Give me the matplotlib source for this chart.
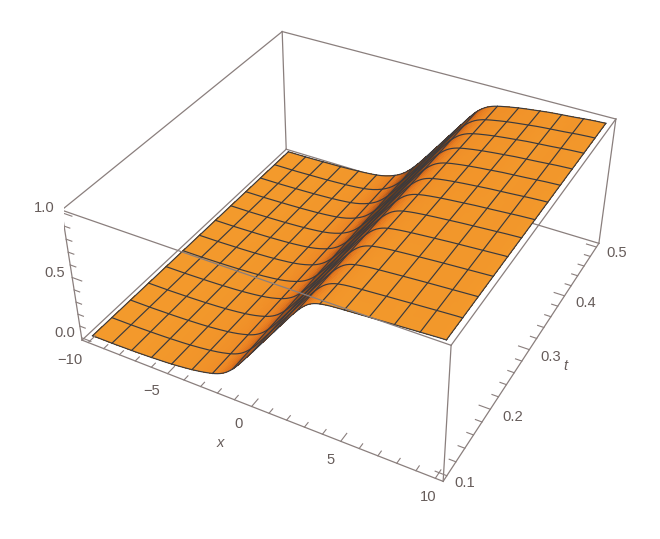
import matplotlib
matplotlib.use('Agg')
import matplotlib.pyplot as plt
import numpy as np
from matplotlib.colors import LinearSegmentedColormap
from mpl_toolkits.mplot3d import proj3d

# values: height of the step along x, front and back row
x_read = np.linspace(-10, 10, 33)
z_front = [0.00, 0.00, 0.00, 0.002, 0.004, 0.006, 0.01, 0.015, 0.02, 0.03,
           0.04, 0.055, 0.075, 0.105, 0.175, 0.28, 0.39, 0.50, 0.61, 0.72,
           0.83, 0.92, 0.945, 0.955, 0.96, 0.965, 0.97, 0.975, 0.98, 0.985,
           0.99, 0.995, 1.00]
z_back = [0.00, 0.00, 0.00, 0.002, 0.004, 0.006, 0.008, 0.012, 0.016, 0.022,
          0.03, 0.045, 0.075, 0.12, 0.20, 0.30, 0.405, 0.51, 0.615, 0.72,
          0.825, 0.885, 0.91, 0.925, 0.94, 0.95, 0.96, 0.97, 0.975, 0.98,
          0.99, 0.995, 1.00]

x_ticks = [-10, -5, 0, 5, 10]
t_ticks = [0.1, 0.2, 0.3, 0.4, 0.5]
z_ticks = [0.0, 0.5, 1.0]

xl = (-10.4, 10.4)
tl = (0.092, 0.508)
zl = (-0.02, 1.02)

box_col = '#8a7f7d'
txt_col = '#665c5a'
mesh_col = '#3a3a3e'

W, H = 660, 539
s, cx, cy = 561.92, 344.92, 235.68
fig = plt.figure(figsize=(W / 100, H / 100), dpi=100)
ax = fig.add_axes([(cx - s / 2) / W, (H - cy - s / 2) / H, s / W, s / H],
                  projection='3d', computed_zorder=False)
ax.view_init(elev=36.2194, azim=-61.611, roll=-0.0404)
ax.set_proj_type('persp', focal_length=0.4405)
ax.set_box_aspect((2.4989, 2.5038, 1.0))
ax.set_xlim(*xl)
ax.set_ylim(*tl)
ax.set_zlim(*zl)
ax.set_axis_off()
ax.patch.set_alpha(0)

# fine grid for a smooth surface between the rows that were read
x_vals = np.linspace(-10, 10, 129)
t_vals = np.linspace(0.1, 0.5, 25)
def smooth(y):
    k = np.ones(5) / 5
    for _ in range(2):
        y = np.convolve(np.r_[[y[0]] * 2, y, [y[-1]] * 2], k, mode='valid')
    return y

front = smooth(np.interp(x_vals, x_read, z_front))
back = smooth(np.interp(x_vals, x_read, z_back))
w = (t_vals - 0.1) / 0.4
Z = np.outer(1 - w, front) + np.outer(w, back)
X, T = np.meshgrid(x_vals, t_vals)

# shading depends on the slope of the facet, darker towards the back
slope = np.gradient(Z, x_vals, axis=1)
slope = (slope[:-1, :-1] + slope[1:, 1:]) / 2
shade = LinearSegmentedColormap.from_list(
    'shade', ['#f39a2c', '#ee8a26', '#e2771f', '#bc5c1c', '#754019'])
dark = 0.85 + 0.3 * w[:-1, None]
colors = shade(np.clip(slope / 0.18 * dark, 0, 1))
ax.plot_surface(X, T, Z, facecolors=colors, rstride=1, cstride=1,
                shade=False, linewidth=0, antialiased=False, zorder=2)

# mesh
for i in range(0, len(t_vals), 2):
    ax.plot(x_vals, T[i], Z[i], color=mesh_col, lw=0.85, zorder=3)
for j in range(0, len(x_vals), 8):
    ax.plot(X[:, j], t_vals, Z[:, j], color=mesh_col, lw=0.85, zorder=3)

# box edges
def edge(a, b, z=4, lw=0.9):
    ax.plot(*zip(a, b), color=box_col, lw=lw, zorder=z)

edge((xl[0], tl[1], zl[0]), (xl[1], tl[1], zl[0]), z=1)
edge((xl[0], tl[0], zl[0]), (xl[0], tl[1], zl[0]), z=1)
edge((xl[0], tl[1], zl[0]), (xl[0], tl[1], zl[1]), z=1)
edge((xl[1], tl[1], zl[0]), (xl[1], tl[1], zl[1]), z=1)
edge((xl[0], tl[0], zl[0]), (xl[1], tl[0], zl[0]))
edge((xl[1], tl[0], zl[0]), (xl[1], tl[1], zl[0]))
edge((xl[0], tl[0], zl[0]), (xl[0], tl[0], zl[1]))
edge((xl[1], tl[0], zl[0]), (xl[1], tl[0], zl[1]))
edge((xl[0], tl[0], zl[1]), (xl[1], tl[0], zl[1]))
edge((xl[1], tl[0], zl[1]), (xl[1], tl[1], zl[1]))
edge((xl[1], tl[1], zl[1]), (xl[0], tl[1], zl[1]))
edge((xl[0], tl[1], zl[1]), (xl[0], tl[0], zl[1]))

# ticks
for v in np.arange(-10, 10.5, 1):
    L = 0.012 if v % 5 == 0 else 0.007
    edge((v, tl[0], zl[0]), (v, tl[0] + L, zl[0]), lw=0.8)
for v in np.arange(0.1, 0.505, 0.02):
    L = 0.6 if abs(v * 10 - round(v * 10)) < 1e-6 else 0.35
    edge((xl[1], v, zl[0]), (xl[1] - L, v, zl[0]), lw=0.8)
for v in np.arange(0, 1.01, 0.1):
    L = 0.6 if abs(v * 2 - round(v * 2)) < 1e-6 else 0.35
    edge((xl[0], tl[0], v), (xl[0] + L, tl[0], v), lw=0.8)

# labels go in as 2d text at the projected place of the 3d point
M = ax.get_proj()
def label(x, t, z, txt, **kw):
    px, py, _ = proj3d.proj_transform(x, t, z, M)
    ax.text2D(px, py, txt, transform=ax.transData, family='Liberation Sans',
              fontsize=10.6, color=txt_col, ha='center', va='center', **kw)

for v in x_ticks:
    label(v + 0.01 * (v + 10), tl[0] - (0.03 - 0.0003 * (v + 10)), zl[0],
          str(v).replace('-', '\u2212'))
for v in t_ticks:
    label(xl[1] + min(1.2, 0.9 + 3 * (v - 0.1)), v, zl[0], '%.1f' % v)
for v in z_ticks:
    label(xl[0] - 1.1, tl[0], v - 0.012, '%.1f' % v)
label(0.0, tl[0] - 0.056, zl[0], 'x', style='italic')
label(xl[1] + 1.8, 0.315, zl[0] - 0.12, 't', style='italic')

fig.savefig('out.png', dpi=100)
